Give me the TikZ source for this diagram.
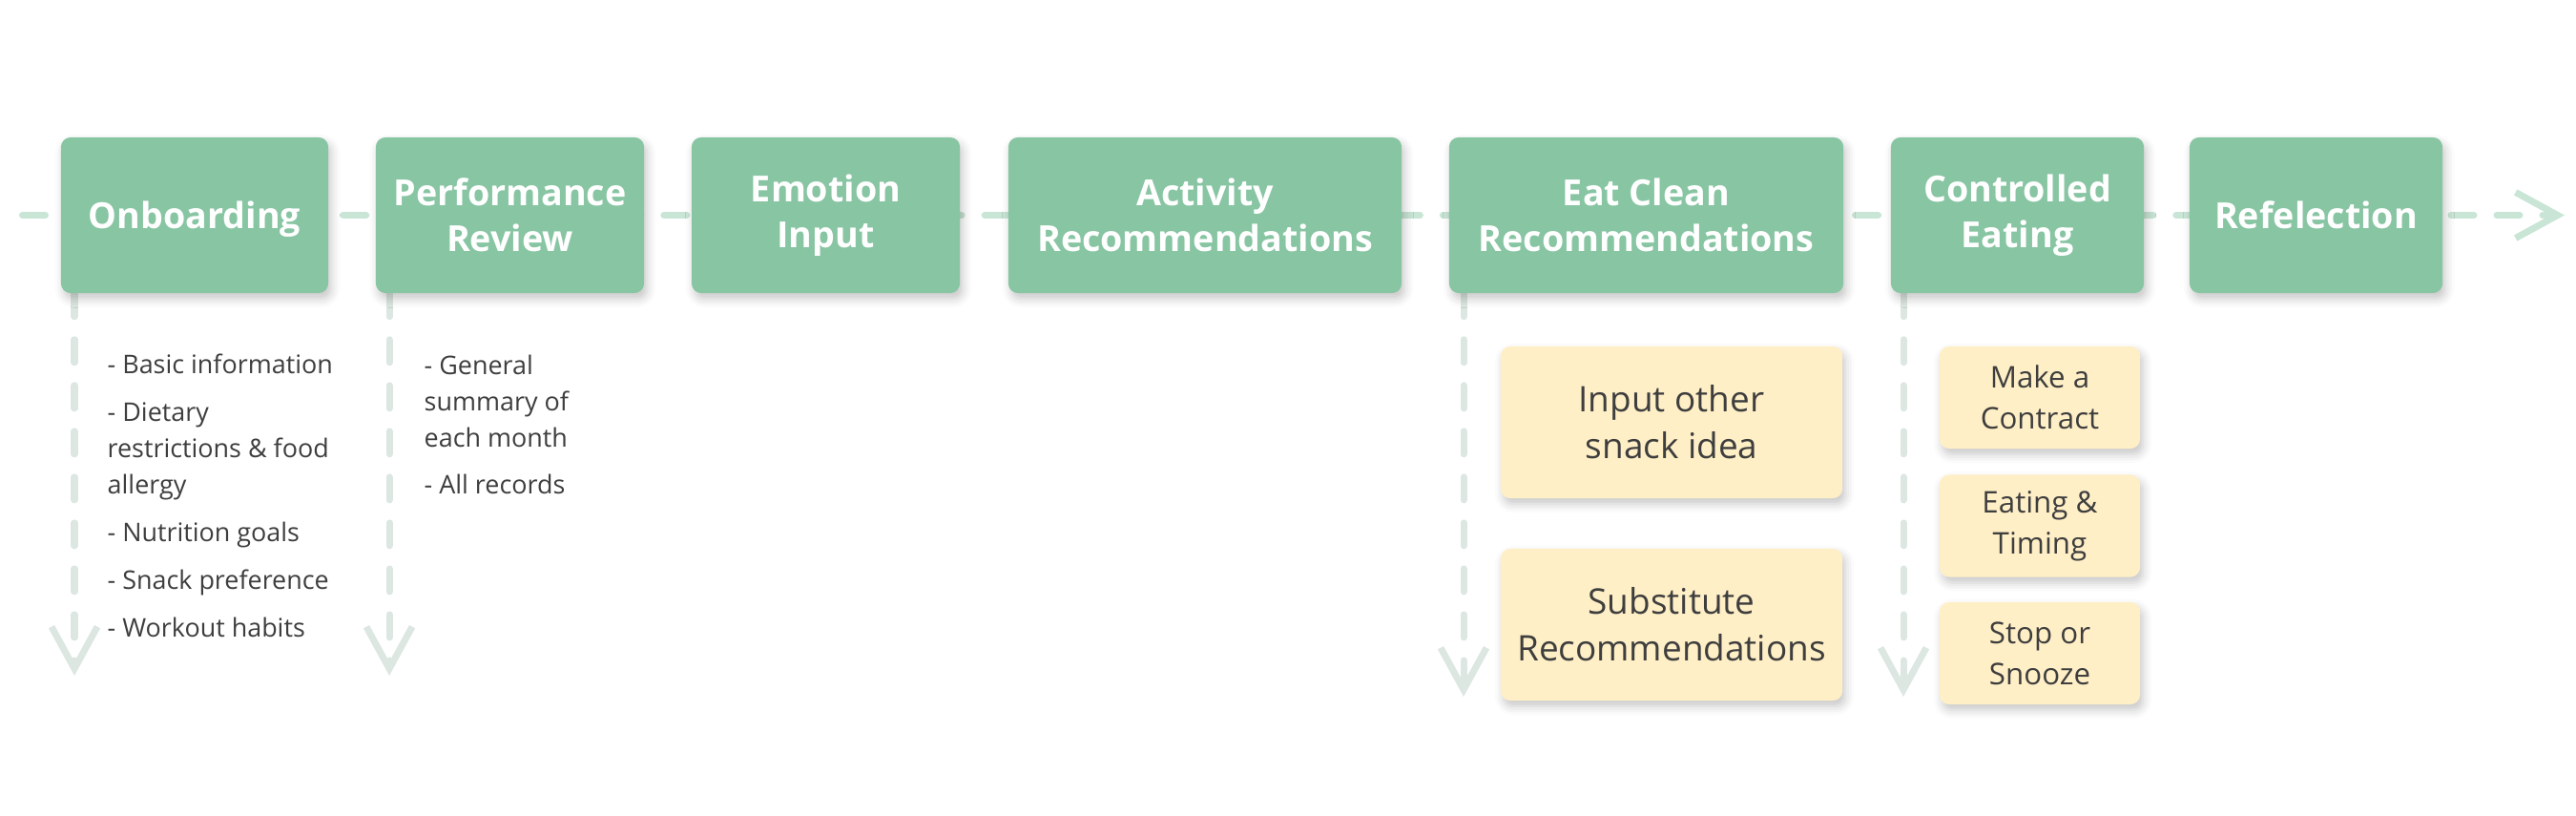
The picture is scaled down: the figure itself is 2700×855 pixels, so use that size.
\documentclass[tikz,border=0pt]{standalone}
\usepackage{fontspec}
\setmainfont{Open Sans}
\usetikzlibrary{arrows.meta,shadows.blur,backgrounds}

\definecolor{stagegreen}{HTML}{88C5A3}
\definecolor{flowgreen}{HTML}{C8E5D5}
\definecolor{dropgrey}{HTML}{DCE7E1}
\definecolor{notecream}{HTML}{FFEFC6}
\definecolor{inkgrey}{HTML}{3E3E3E}

\begin{document}
\begin{tikzpicture}[x=0.01cm,y=-0.01cm,
    stage/.style={
      fill=stagegreen,
      rounded corners=1mm,
      inner sep=0pt,
      minimum height=16.3mm,
      align=center,
      text=white,
      font=\fontsize{10.7pt}{13.7pt}\selectfont\bfseries,
      blur shadow={shadow xshift=0.3mm,shadow yshift=-0.6mm,shadow blur radius=0.9mm,shadow opacity=22},
    },
    card/.style={
      fill=notecream,
      rounded corners=1mm,
      inner sep=0pt,
      minimum width=35.8mm,
      minimum height=15.9mm,
      align=center,
      text=inkgrey,
      font=\fontsize{10.5pt}{13.9pt}\selectfont,
      blur shadow={shadow xshift=0.3mm,shadow yshift=-0.6mm,shadow blur radius=0.9mm,shadow opacity=22},
    },
    smallcard/.style={
      card,
      minimum width=21mm,
      minimum height=10.7mm,
      font=\fontsize{8.9pt}{12.2pt}\selectfont,
    },
    note/.style={
      inner sep=0pt,
      align=left,
      text=inkgrey,
      font=\fontsize{7.65pt}{10.8pt}\selectfont,
    },
    flowline/.style={
      draw=flowgreen,
      line width=0.7mm,
      line cap=round,
      line join=round,
      dash pattern=on 2.4mm off 2.4mm,
      -{Straight Barb[length=4.4mm,width=4.8mm]},
    },
    dropline/.style={
      flowline,
      draw=dropgrey,
    },
  ]
  \useasboundingbox (0,0) rectangle (2700,855);

  % main stages
  \node[stage, minimum width=28mm, text depth=0pt] (onb) at (204,225.5) {Onboarding};
  \node[stage, minimum width=28.1mm] (perf) at (534.5,225.5) {Performance\\Review};
  \node[stage, minimum width=28.1mm] (emo) at (865.5,225.5) {Emotion\\Input};
  \node[stage, minimum width=41.2mm] (act) at (1263,225.5) {Activity\\Recommendations};
  \node[stage, minimum width=41.3mm] (eat) at (1725.5,225.5) {Eat Clean\\Recommendations};
  \node[stage, minimum width=26.5mm] (ctrl) at (2114.5,225.5) {Controlled\\Eating};
  \node[stage, minimum width=26.5mm] (refl) at (2427.5,225.5) {Refelection};

  % details (base = last line)
  \node[note, anchor=base west] (onblist) at (112,667)
    {- Basic information\\[3.4pt]
     - Dietary\\ restrictions \& food\\ allergy\\[3.4pt]
     - Nutrition goals\\[3.4pt]
     - Snack preference\\[3.4pt]
     - Workout habits};
  \node[note, anchor=base west] (perflist) at (444,518)
    {- General\\ summary of\\ each month\\[3.4pt]
     - All records};

  \node[card] (snack) at (1752,442.5) {Input other\\snack idea};
  \node[card] (subst) at (1752,654.5) {Substitute\\Recommendations};

  \node[smallcard] (contract) at (2138,416.5) {Make a\\Contract};
  \node[smallcard] (timing) at (2138,551) {Eating \&\\Timing};
  \node[smallcard] (snooze) at (2138,684.5) {Stop or\\Snooze};

  \coordinate (lstart) at (23.5,225.5);
  \coordinate (lend) at (2688,225.5);
  \coordinate (onbend) at (78,708);
  \coordinate (perfend) at (408,708);
  \coordinate (eatend) at (1534,730);
  \coordinate (ctrlend) at (1995,730);

  \begin{pgfonlayer}{background}
    \draw[flowline] (lstart) -- (onb.center) -- (perf.center) -- (emo.center) -- (act.center)
      -- (eat.center) -- (ctrl.center) -- (refl.center) -- (lend);
    \draw[dropline] (onb.south west -| onbend) -- (onbend);
    \draw[dropline] (perf.south west -| perfend) -- (perfend);
    \draw[dropline] (eat.south west -| eatend) -- (eatend);
    \draw[dropline] (ctrl.south west -| ctrlend) -- (ctrlend);
  \end{pgfonlayer}

\end{tikzpicture}
\end{document}
